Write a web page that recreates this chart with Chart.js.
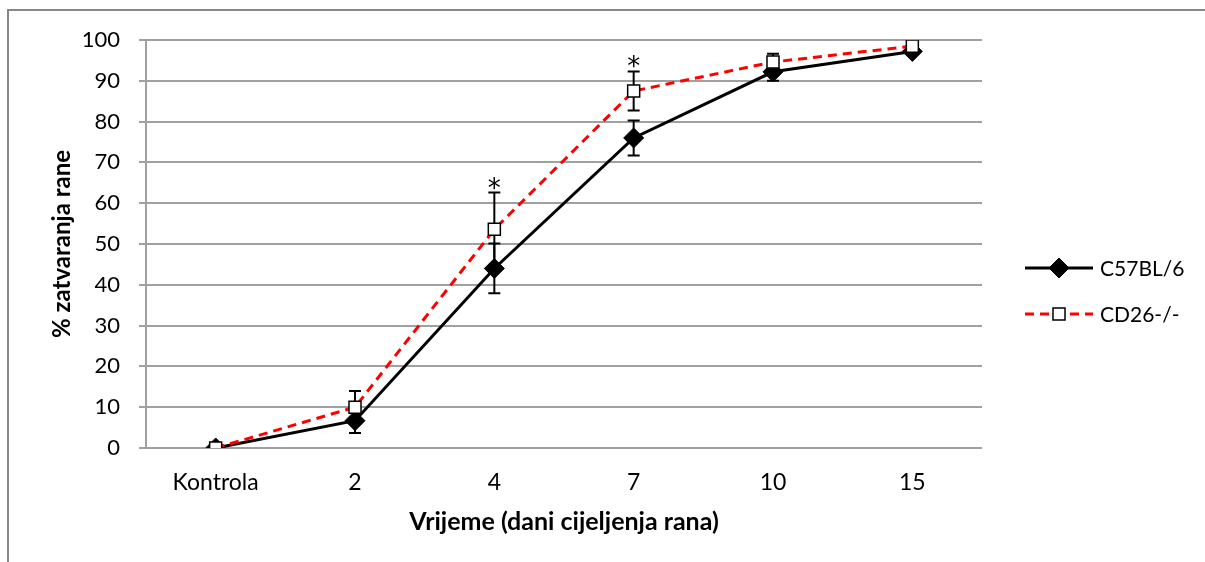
<!DOCTYPE html>
<html>
<head>
<meta charset="utf-8">
<script src="https://cdn.jsdelivr.net/npm/chart.js@4/dist/chart.umd.min.js"></script>
<style>
  body { margin: 0; background: #fff; }
  #wrap { width: 1205px; height: 562px; }
</style>
</head>
<body>
<div id="wrap"><canvas id="woundChart" width="1205" height="562"></canvas></div>
<script>
const days = ['Kontrola', '2', '4', '7', '10', '15'];
const wildType = [0, 6.7, 44, 76, 92.2, 97.2];
const wildTypeErr = [0, 3, 6.1, 4.3, 2.2, 0.4];
const knockout = [0, 10, 53.6, 87.5, 94.6, 98.5];
const knockoutErr = [0, 4, 9, 4.8, 2, 0.4];
const significance = ['', '', '*', '*', '', ''];

const FONT = 'Lato, "Open Sans", sans-serif';

const errorBars = {
  id: 'errorBars',
  beforeDatasetsDraw(chart) {
    const { ctx } = chart;
    const y = chart.scales.y;
    ctx.save();
    ctx.strokeStyle = '#000';
    ctx.lineWidth = 2;
    chart.data.datasets.forEach((ds, i) => {
      const meta = chart.getDatasetMeta(i);
      meta.data.forEach((pt, j) => {
        const e = ds.errors[j];
        if (!e) return;
        const top = y.getPixelForValue(ds.data[j] + e);
        const bot = y.getPixelForValue(ds.data[j] - e);
        ctx.beginPath();
        ctx.moveTo(pt.x, top); ctx.lineTo(pt.x, bot);
        ctx.moveTo(pt.x - 6, top); ctx.lineTo(pt.x + 6, top);
        ctx.moveTo(pt.x - 6, bot); ctx.lineTo(pt.x + 6, bot);
        ctx.stroke();
      });
    });
    ctx.restore();
  },
  afterDatasetsDraw(chart) {
    const { ctx } = chart;
    const y = chart.scales.y;
    const meta = chart.getDatasetMeta(1);
    ctx.save();
    ctx.fillStyle = '#000';
    ctx.font = '26px "DejaVu Sans", sans-serif';
    ctx.textAlign = 'center';
    ctx.textBaseline = 'alphabetic';
    significance.forEach((s, j) => {
      if (!s) return;
      const top = y.getPixelForValue(knockout[j] + knockoutErr[j]);
      ctx.fillText(s, meta.data[j].x, top + 4);
    });
    ctx.restore();
  }
};

const frameAndLegend = {
  id: 'frameAndLegend',
  afterDraw(chart) {
    const { ctx } = chart;
    ctx.save();
    // outer frame
    ctx.strokeStyle = '#878787';
    ctx.lineWidth = 2;
    ctx.beginPath();
    ctx.moveTo(8, 562); ctx.lineTo(8, 10); ctx.lineTo(1205, 10);
    ctx.stroke();

    // legend
    const rows = [268, 314];
    chart.data.datasets.forEach((ds, i) => {
      const ly = rows[i];
      ctx.strokeStyle = ds.borderColor;
      ctx.lineWidth = ds.borderWidth;
      ctx.setLineDash(ds.borderDash || []);
      ctx.beginPath();
      ctx.moveTo(1025, ly); ctx.lineTo(1093, ly);
      ctx.stroke();
      ctx.setLineDash([]);
      ctx.fillStyle = ds.pointBackgroundColor;
      ctx.strokeStyle = ds.pointBorderColor;
      ctx.lineWidth = ds.pointBorderWidth;
      ctx.beginPath();
      if (ds.pointStyle === 'rectRot') {
        const r = ds.pointRadius;
        ctx.moveTo(1059 - r, ly); ctx.lineTo(1059, ly - r); ctx.lineTo(1059 + r, ly); ctx.lineTo(1059, ly + r);
      } else {
        const h = ds.pointRadius * Math.SQRT1_2;
        ctx.rect(1059 - h, ly - h, 2 * h, 2 * h);
      }
      ctx.closePath();
      ctx.fill();
      ctx.stroke();
      ctx.fillStyle = '#000';
      ctx.font = '21px ' + FONT;
      ctx.textAlign = 'left';
      ctx.textBaseline = 'middle';
      ctx.fillText(ds.label, 1100, ly + 1);
    });
    ctx.restore();
  }
};

new Chart(document.getElementById('woundChart').getContext('2d'), {
  type: 'line',
  data: {
    labels: days,
    datasets: [
      {
        label: 'C57BL/6',
        data: wildType,
        errors: wildTypeErr,
        borderColor: '#000',
        borderWidth: 3,
        pointStyle: 'rectRot',
        pointRadius: 10,
        pointBackgroundColor: '#000',
        pointBorderColor: '#000',
        pointBorderWidth: 1,
        tension: 0,
        order: 2
      },
      {
        label: 'CD26-/-',
        data: knockout,
        errors: knockoutErr,
        borderColor: '#ff0000',
        borderWidth: 3,
        borderDash: [9, 6],
        pointStyle: 'rect',
        pointRadius: 8.5,
        pointBackgroundColor: '#fff',
        pointBorderColor: '#000',
        pointBorderWidth: 1.5,
        tension: 0,
        order: 1
      }
    ]
  },
  options: {
    responsive: false,
    animation: false,
    layout: { padding: { left: 0, right: 223, top: 40, bottom: 0 } },
    plugins: {
      legend: { display: false },
      tooltip: { enabled: false }
    },
    scales: {
      x: {
        offset: true,
        grid: { display: false, drawTicks: false, offset: true },
        border: { display: false },
        ticks: { color: '#000', font: { family: FONT, size: 23 }, padding: 21, maxRotation: 0 },
        title: {
          display: true,
          text: 'Vrijeme (dani cijeljenja rana)',
          color: '#000',
          font: { family: FONT, size: 25, weight: 'bold' },
          padding: { top: 0, bottom: 25 }
        },
        afterFit(scale) { scale.height = 114; }
      },
      y: {
        min: 0,
        max: 100,
        ticks: { stepSize: 10, color: '#000', font: { family: FONT, size: 22 }, padding: 19 },
        grid: { color: '#a0a0a0', lineWidth: 2, tickLength: 7, drawTicks: true },
        border: { display: true, color: '#a0a0a0', width: 2 },
        title: {
          display: true,
          text: '% zatvaranja rane',
          color: '#000',
          font: { family: FONT, size: 24, weight: 'bold' },
          padding: { top: 48, bottom: 0 }
        },
        afterFit(scale) { scale.width = 146; }
      }
    }
  },
  plugins: [errorBars, frameAndLegend]
});
</script>
</body>
</html>
